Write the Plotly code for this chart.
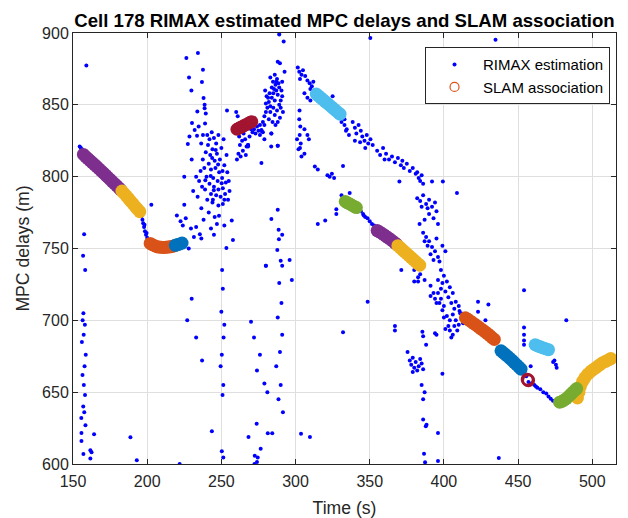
import plotly.graph_objects as go

# ---------------- RIMAX estimation points (time s, delay m) ----------------
rimax_start = [(154.5, 821), (155.2, 820.2), (156.0, 819), (156.5, 817.5), (155.8, 818.5)]

rimax_left = [(157.5, 760), (156.8, 745), (158.2, 735), (157, 705), (156.5, 700), (158, 697),
              (157.2, 690), (156, 685), (158.6, 676), (157.8, 668), (156.4, 662), (157.3, 655),
              (158.1, 648), (156.9, 640), (157.6, 636), (155.6, 632), (158.4, 627), (155.7, 621.6),
              (155.7, 616), (164.2, 620.7), (157, 607), (161.7, 609.5), (162.5, 608.1), (161.7, 603.9),
              (159, 877.4), (188.7, 618.6), (193, 602.6)]

rimax_bridge = [(195.6, 775), (196.2, 772.5), (196.8, 770), (197.3, 767.5), (197.9, 765), (198.5, 762),
                (199.2, 759.5), (200, 757.5), (201, 755.5), (201.8, 754.4), (198.2, 766.5), (199.6, 760.8),
                (224.5, 754.5), (225.3, 755.8)]

rimax_cloud_a = [(240.5, 829), (242, 826), (243.5, 831), (245, 827), (241, 822), (246.5, 823), (248, 829),
                 (244, 819), (239.5, 817), (242.5, 815), (247, 816), (250, 820), (251.5, 826), (249, 812),
                 (245.5, 811), (241.5, 809), (238.5, 806), (243, 805), (246, 806), (248.5, 803), (252, 808),
                 (253.5, 815), (240, 800), (244.5, 799), (247.5, 797), (250.5, 799), (242, 795), (245, 793),
                 (248, 791), (251, 792), (253, 796), (239, 791), (243, 788), (246.5, 787), (249.5, 786),
                 (252.5, 788), (254, 803), (255, 797), (237.5, 812), (236, 804), (235, 797), (237, 793),
                 (234, 786), (240.5, 784), (244, 782), (248, 780), (251, 781), (254.5, 784), (255.5, 790),
                 (236.5, 778), (241.5, 775), (245.5, 772), (238, 770), (233, 765), (235.5, 760), (243, 764),
                 (247, 767), (252, 766), (257, 769.5), (245, 759.5), (253.4, 750.3), (257.8, 756),
                 (236.5, 757), (231.5, 758), (244.3, 784), (252, 784), (248.4, 772.8), (225, 800),
                 (225, 780.4), (228, 750), (220, 773), (222.5, 769), (224, 766), (226, 771), (229.5, 764),
                 (202.8, 780.4), (231, 790), (233, 800), (230, 812), (243.8, 813), (246.2, 818.5),
                 (250.8, 804), (242.8, 800.5), (247.8, 808.5), (239.2, 797.5), (244.9, 790.5), (250.2, 795.5),
                 (226.4, 882.6), (234.2, 886), (237.6, 874.4), (228.2, 869), (236.9, 865.9), (229.8, 860),
                 (238, 854.7), (238.7, 850), (238.7, 847.6), (253.8, 846), (233.8, 845.4), (239.5, 844),
                 (230.2, 837.3), (234.7, 835), (239, 837), (232, 832.5), (228.5, 828), (233.6, 828.5),
                 (237.6, 829), (227.4, 822.8), (236.4, 823)]

rimax_low_mid = [(221.9, 600), (243.6, 622.8), (250.3, 608.8), (251.3, 604.6), (268.3, 618.8),
                 (273.8, 628.1), (272.5, 605.8), (274.5, 604.6), (274, 601.4), (272.3, 600),
                 (276.5, 610.6), (281.3, 621.4), (284.3, 621.4), (303.7, 621.1), (309.7, 618.8),
                 (250.5, 735), (251, 722), (250, 706), (252, 697), (251.5, 688), (250.3, 676),
                 (249.5, 668), (251.3, 655), (250.8, 648), (230, 715), (227, 700), (233, 688),
                 (237, 672), (270, 699), (272, 688), (276, 676), (274, 665), (279, 656), (281, 650),
                 (289, 726), (290.5, 712), (288, 702), (291, 690), (289.5, 678), (287, 668),
                 (290, 655), (288.5, 645), (291.5, 636), (280, 738), (296, 742), (297.5, 728)]

rimax_cluster_c = [(260, 845), (261, 842), (262, 828), (262.5, 822), (261.5, 816), (260.5, 812), (264, 825),
                   (265, 830), (266, 826), (267, 821), (268, 822), (264.5, 818), (263, 814), (266.5, 815),
                   (269, 828), (270, 833), (271, 831), (272, 833), (273, 830), (274, 835), (275, 832),
                   (276, 829), (277, 832), (276, 836), (278, 838), (279, 842), (280, 845), (281, 848),
                   (282, 852), (283, 849), (284, 855), (285, 858), (286, 853), (287, 860), (288, 857),
                   (289, 862), (288.5, 865), (287.5, 868), (286.5, 864), (285.5, 861), (284, 862),
                   (282.5, 858), (281.5, 855), (280, 851), (283, 845), (285, 848), (286, 843),
                   (287.5, 846), (289, 850), (290, 853), (291, 856), (290.5, 860), (289.5, 841),
                   (288, 838), (286.5, 836), (284.5, 838), (282, 840), (279, 836), (278, 831),
                   (279, 826), (283.6, 821), (283.7, 830), (288, 821.5), (277, 809.5), (288, 880),
                   (289.5, 879), (292.6, 873), (289, 899), (292, 894), (286, 871), (287, 866), (291, 866),
                   (290, 848), (291.5, 845), (280.5, 856), (279.5, 860), (284.8, 866), (283, 869),
                   (268, 822), (277, 832.5), (283.7, 830), (288, 821.5), (277, 832), (268, 821)]

rimax_col_d = [(288, 777), (283.7, 770.5), (288.6, 763), (291, 759.5), (288.8, 756.5), (287.7, 749),
               (290, 741.4), (291, 738), (280, 738)]

rimax_cluster_e = [(301.5, 876), (302.5, 873), (304, 871), (303, 868), (305, 874), (306.5, 870), (308, 867),
                   (309.5, 865), (311, 863), (312, 866), (310, 861), (312.5, 860), (306, 858), (308, 855),
                   (310, 853), (302.7, 846), (302.5, 840), (303.2, 835), (302.8, 829), (303.5, 823),
                   (302, 819), (306, 833), (308, 829), (309, 826), (301, 826), (303, 820), (304, 814),
                   (306, 816), (313, 807), (315, 805), (321.5, 801), (323, 800), (324.5, 802), (326, 799),
                   (332, 807.5), (334, 832), (333, 836), (334.5, 833), (336, 829), (338.5, 838), (340, 834),
                   (341, 830), (342.5, 836), (344, 832), (345, 828), (346.5, 825), (348, 829), (349, 823),
                   (350.5, 826), (352, 822), (340, 825), (343.5, 824), (347, 820), (350.4, 896.5),
                   (355, 818), (357, 815), (359, 820), (361, 816), (363, 812), (365, 814), (367, 810),
                   (369, 813), (371, 808), (373, 806), (375, 809), (377, 804), (379, 806), (381, 802),
                   (383, 799), (385, 801), (384, 797), (386, 795), (382, 803), (372, 811), (360, 812),
                   (331, 838), (333, 840), (325, 856), (327.5, 777.4), (327.5, 774), (320, 769.5),
                   (315, 767), (331, 787), (336.5, 788.6), (348.6, 713), (332, 691.7), (367, 693),
                   (367, 696), (386, 689)]

rimax_bridge_e = [(344, 776), (345.5, 774), (347, 772), (348.5, 771), (350, 769), (351.5, 767),
                  (353, 766), (346, 773)]

rimax_cloud_g = [(382, 785), (384, 783), (386, 787), (388, 781), (390, 784), (392, 779), (394, 782),
                 (395, 776), (389, 778), (385, 779), (392, 796.6), (408.8, 788.6), (399.3, 796.6),
                 (370, 796.6), (383.6, 767), (386, 761), (388, 758), (390, 755), (392, 751), (394, 748),
                 (396, 744), (397, 741), (389, 752), (391, 746), (393, 742), (387, 755), (395, 757),
                 (382.6, 730), (382.6, 727), (371.3, 735), (380, 735), (384, 732), (387, 728), (398, 735),
                 (400, 731), (402, 727), (404, 723), (399, 726), (401, 720), (403, 716), (405, 712),
                 (407, 708), (406, 704), (404, 700), (402, 703), (408, 700), (410, 697), (409, 693),
                 (400, 710), (398, 715), (396, 719), (391, 724), (391, 717), (393, 719), (394, 715),
                 (395, 712), (400, 702), (403, 696), (406, 690), (405, 688), (399, 707), (397, 712),
                 (411, 705), (412, 702), (413, 698), (406, 719), (408, 713), (396, 728), (398, 722),
                 (410, 710), (401, 694), (404, 693), (407, 696), (380, 727), (395, 690), (385.5, 692),
                 (375.5, 678), (399, 662.8), (388, 683), (394, 691), (377, 672), (378, 669), (379, 674),
                 (380, 667), (381, 671), (382, 665), (383, 668), (384, 673), (385, 670), (386, 666),
                 (379, 664), (386, 645), (387, 650), (385, 655), (386, 630.9), (388.3, 627.4),
                 (387.8, 626.2), (396, 621.6), (386.6, 607.2), (387.3, 601.2), (396, 602.1),
                 (437, 604.2), (390, 774), (393, 771), (387, 770), (396, 767), (399, 752), (401, 748)]

rimax_right = [(454, 721), (454, 695), (454, 690), (454, 686), (454, 683), (482.5, 700), (423, 713),
               (423, 706), (430, 711), (428, 700), (425, 694), (427, 690), (429, 688), (458.5, 668),
               (434.8, 895.3), (410.5, 706.5), (411.8, 704.8), (455.5, 661), (457, 657), (459, 656),
               (461, 655), (463, 653), (465, 652), (467, 650), (469, 649), (470.5, 647), (472, 645.5),
               (473.5, 644), (475, 643), (476, 642.5), (474.5, 672), (475.5, 669), (473.6, 671), (476, 667),
               (462, 654)]

rimax_groups = [rimax_start, rimax_left, rimax_bridge, rimax_cloud_a, rimax_low_mid, rimax_cluster_c,
                rimax_col_d, rimax_cluster_e, rimax_bridge_e, rimax_cloud_g, rimax_right]

# ---------------- SLAM association tracks ----------------
t1_t = [157, 158.5, 160, 161.5, 163, 164.5, 166, 167.5, 169, 170.5, 172, 173.5, 175, 176.5, 178, 179.5, 181, 182]
t1_d = [815.5, 814, 812.6, 811.2, 809.8, 808.4, 807, 805.5, 804, 802.6, 801.1, 799.6, 798.1, 796.6, 795.1, 793.6, 792.1, 791]
t2_t = [183, 184.5, 186, 187.5, 189, 190.5, 192, 193.5, 195]
t2_d = [790, 788.3, 786.5, 784.7, 782.8, 781, 779.2, 777.4, 775.6]
t3_t = [202, 203.5, 205, 206.5, 208, 209.5, 211, 212.5, 214, 215.5, 217, 218.5]
t3_d = [753.5, 752.6, 751.9, 751.3, 751, 750.8, 750.7, 750.8, 751, 751.2, 751.5, 751.9]
t4_t = [219, 220.5, 222, 223.5]
t4_d = [752.2, 752.7, 753.2, 753.8]
t5_t = [260.5, 262, 263.5, 265, 266.5, 268, 269.5, 270.5]
t5_d = [833, 833.8, 834.6, 835.4, 836.2, 837, 837.8, 838.3]
t6_t = [314, 315.5, 317, 318.5, 320, 321.5, 323, 324.5, 326, 327.5, 329, 330]
t6_d = [857.5, 856.2, 854.9, 853.6, 852.3, 851, 849.7, 848.4, 847, 845.7, 844.4, 843.5]
t7_t = [333.5, 335, 336.5, 338, 339.5, 341]
t7_d = [782.7, 781.8, 781, 780.1, 779.3, 778.5]
t8_t = [355, 356.5, 358, 359.5, 361, 362.5, 364, 365.5, 367, 368]
t8_d = [762.5, 761.6, 760.6, 759.6, 758.5, 757.4, 756.3, 755.1, 753.9, 753]
t9_t = [369, 370.5, 372, 373.5, 375, 376.5, 378, 379.5, 381, 382.5, 383.7]
t9_d = [752, 750.6, 749.2, 747.8, 746.4, 745, 743.6, 742.2, 740.8, 739.4, 738.4]
t10_t = [414.5, 416, 417.5, 419, 420.5, 422, 423.5, 425, 426.5, 428, 429.5, 431, 432.5, 434]
t10_d = [701.8, 700.8, 699.7, 698.6, 697.5, 696.4, 695.3, 694.1, 693, 691.8, 690.6, 689.4, 688, 686.7]
t11_t = [438.5, 440, 441.5, 443, 444.5, 446, 447.5, 449, 450.5, 452]
t11_d = [678.8, 677.5, 676.2, 674.9, 673.5, 672.1, 670.6, 669.1, 667.6, 666]
t12_t = [456.3, 456.9]
t12_d = [658.8, 658.2]
t13_t = [461.5, 463, 464.5, 466, 467.5, 469, 470.5]
t13_d = [683, 682.3, 681.7, 681.1, 680.6, 680.1, 679.6]
t15_t = [490, 491, 492, 493.5, 495, 497, 499, 501, 503, 505, 507, 509, 511, 512.5]
t15_d = [646, 650, 654, 657.5, 660, 662.5, 664.5, 666, 667.5, 669, 670.5, 671.5, 672.5, 673.4]
t14_t = [478, 479.5, 481, 482.5, 484, 485.5, 487, 488.5, 489.5]
t14_d = [643, 643.5, 644.5, 645.5, 647, 648.5, 650, 651.5, 652.5]

C_BLUE, C_RED, C_YEL, C_PUR, C_GRN, C_CYA, C_DRK = ("#0072BD", "#D95319", "#EDB120", "#7E2F8E",
                                                    "#77AC30", "#4DBEEE", "#A2142F")
tracks = [(t1_t, t1_d, C_PUR), (t2_t, t2_d, C_YEL), (t3_t, t3_d, C_RED), (t4_t, t4_d, C_BLUE),
          (t5_t, t5_d, C_DRK), (t6_t, t6_d, C_CYA), (t7_t, t7_d, C_GRN), (t8_t, t8_d, C_PUR),
          (t9_t, t9_d, C_YEL), (t10_t, t10_d, C_RED), (t11_t, t11_d, C_BLUE), (t13_t, t13_d, C_CYA),
          (t15_t, t15_d, C_YEL), (t14_t, t14_d, C_GRN)]

x_ticks = [150, 200, 250, 300, 350, 400, 450, 500]
y_ticks = [600, 650, 700, 750, 800, 850, 900]

rx = [p[0] for g in rimax_groups for p in g]
ry = [p[1] for g in rimax_groups for p in g]

fig = go.Figure()
fig.add_trace(go.Scatter(x=rx, y=ry, mode="markers", name="RIMAX estimation",
                         marker=dict(color="#0000FF", size=4, line=dict(width=0))))
for tt, dd, col in tracks:
    fig.add_trace(go.Scatter(x=tt, y=dd, mode="markers", showlegend=False,
                             marker=dict(color=col, size=13, line=dict(width=0))))
fig.add_trace(go.Scatter(x=t12_t, y=t12_d, mode="markers", showlegend=False,
                         marker=dict(symbol="circle-open", color=C_DRK, size=11, line=dict(width=2.5, color=C_DRK))))
fig.add_trace(go.Scatter(x=[None], y=[None], mode="markers", name="SLAM association",
                         marker=dict(symbol="circle-open", color=C_RED, size=9, line=dict(width=1.2, color=C_RED))))

axis_common = dict(showline=True, linecolor="#262626", linewidth=1, mirror="ticks", ticks="inside",
                   ticklen=5, tickcolor="#262626", showgrid=True, gridcolor="#dfdfdf", gridwidth=1,
                   zeroline=False, automargin=False,
                   tickfont=dict(family="Liberation Sans, Arial", size=16, color="#262626"))

fig.update_layout(
    width=628, height=518,
    margin=dict(l=73, r=12, t=33, b=54, autoexpand=False),
    paper_bgcolor="white", plot_bgcolor="white",
    title=dict(text="<b>Cell 178 RIMAX estimated MPC delays and SLAM association</b>",
               x=0.5486, xanchor="center", y=1 - 20 / 518, yanchor="middle", yref="container",
               font=dict(family="Liberation Sans, Arial", size=18.6, color="black")),
    xaxis=dict(range=[150, 516], tickvals=x_ticks, ticktext=[str(v) for v in x_ticks],
               ticklabelstandoff=3,
               title=dict(text="Time (s)", standoff=12,
                          font=dict(family="Liberation Sans, Arial", size=17.6, color="#262626")),
               **axis_common),
    yaxis=dict(range=[600, 900], tickvals=y_ticks, ticktext=[str(v) for v in y_ticks],
               title=dict(text="MPC delays (m)", standoff=7,
                          font=dict(family="Liberation Sans, Arial", size=17.6, color="#262626")),
               **axis_common),
    legend=dict(x=0.989, y=0.967, xanchor="right", yanchor="top", bgcolor="white",
                bordercolor="#262626", borderwidth=1, itemwidth=47,
                font=dict(family="Liberation Sans, Arial", size=15, color="black"),
                tracegroupgap=0),
    showlegend=True,
)

fig.write_html("out.html", config={"displayModeBar": False},
               post_script="document.body.style.margin='0';document.body.style.overflow='hidden';")
